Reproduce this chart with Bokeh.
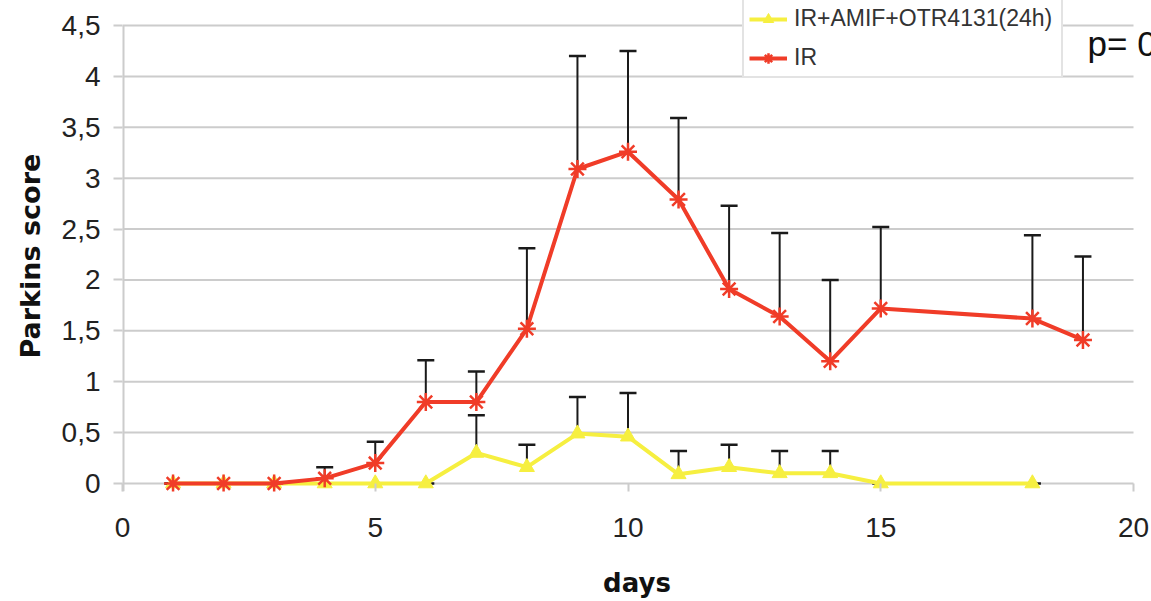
from bokeh.plotting import figure
from bokeh.models import Range1d, FixedTicker, Legend, LegendItem, Label, ColumnDataSource, Title
from bokeh.embed import file_html
from bokeh.resources import INLINE

# ---- data ----
days_ir = [1, 2, 3, 4, 5, 6, 7, 8, 9, 10, 11, 12, 13, 14, 15, 18, 19]
ir_mean = [0, 0, 0, 0.05, 0.2, 0.8, 0.8, 1.52, 3.09, 3.26, 2.79, 1.91, 1.64, 1.2, 1.72, 1.62, 1.41]
ir_err = [0, 0, 0, 0.11, 0.21, 0.41, 0.3, 0.79, 1.11, 0.99, 0.8, 0.82, 0.82, 0.8, 0.8, 0.82, 0.82]

days_tr = [1, 2, 3, 4, 5, 6, 7, 8, 9, 10, 11, 12, 13, 14, 15, 18]
tr_mean = [0, 0, 0, 0, 0, 0, 0.3, 0.16, 0.49, 0.46, 0.09, 0.16, 0.1, 0.1, 0, 0]
tr_err = [0, 0, 0, 0, 0, 0, 0.37, 0.22, 0.36, 0.43, 0.23, 0.22, 0.22, 0.22, 0, 0]

x_ticks = [0, 5, 10, 15, 20]
y_ticks = [0, 0.5, 1, 1.5, 2, 2.5, 3, 3.5, 4, 4.5]
y_tick_labels = ["0", "0,5", "1", "1,5", "2", "2,5", "3", "3,5", "4", "4,5"]
x_min, x_max = 0, 20
y_min, y_max = 0, 4.5

label_tr = "IR+AMIF+OTR4131(24h)"
label_ir = "IR"
x_title = "days"
y_title = "Parkins score"
p_text = "p= 0"

RED = "#f03c28"
YEL = "#f6ef40"
GRID = "#cccccc"
FONT = "Liberation Sans"

# frame extends past the axes' ends so the legend and the p-value are not clipped
p = figure(width=1151, height=601, output_backend="svg", toolbar_location=None,
           x_range=Range1d(x_min, 20.356), y_range=Range1d(-0.079, 4.7456),
           min_border_left=122, min_border_right=0, min_border_top=0, min_border_bottom=110)
p.outline_line_color = None
p.background_fill_color = "white"
p.xgrid.grid_line_color = None
p.ygrid.grid_line_color = None

# horizontal grid lines, limited to 0..20
p.segment(x0=[x_min] * len(y_ticks), y0=y_ticks, x1=[x_max] * len(y_ticks), y1=y_ticks,
          line_color=GRID, line_width=2)
# vertical axis line, from just below 0 up to 4.5
p.segment(x0=[x_min], y0=[-0.079], x1=[x_min], y1=[y_max], line_color=GRID, line_width=4)

# x axis
xa = p.xaxis[0]
xa.ticker = FixedTicker(ticks=x_ticks)
xa.axis_line_color = None
xa.major_tick_in = 8
xa.major_tick_out = 0
xa.major_tick_line_color = GRID
xa.major_tick_line_width = 2
xa.minor_tick_line_color = None
xa.major_label_text_font = FONT
xa.major_label_text_font_size = "28px"
xa.major_label_text_color = "#222222"
xa.major_label_standoff = 26
xa.axis_label = x_title
xa.axis_label_text_font = "DejaVu Sans"
xa.axis_label_text_font_style = "bold"
xa.axis_label_text_font_size = "26px"
xa.axis_label_text_color = "#111111"
xa.axis_label_standoff = 28

# y axis
ya = p.yaxis[0]
ya.ticker = FixedTicker(ticks=y_ticks)
ya.major_label_overrides = {t: l for t, l in zip(y_ticks, y_tick_labels)}
ya.axis_line_color = None
ya.major_tick_in = 0
ya.major_tick_out = 9
ya.major_tick_line_color = GRID
ya.major_tick_line_width = 2
ya.minor_tick_line_color = None
ya.major_label_text_font = FONT
ya.major_label_text_font_size = "28px"
ya.major_label_text_color = "#222222"
ya.major_label_standoff = 13

# y-axis title, centred on the 0..4.5 span
p.add_layout(Title(text=y_title, align="left", offset=133, text_font="DejaVu Sans",
                   text_font_style="bold", text_font_size="27px", text_color="#111111",
                   standoff=25), "left")

# error bars (upper only)
def add_errors(xs, ms, es):
    tops = [m + e for m, e in zip(ms, es)]
    src = ColumnDataSource(dict(x=xs, y0=ms, y1=tops))
    p.segment(x0="x", y0="y0", x1="x", y1="y1", source=src, line_color="#1a1a1a", line_width=2)
    p.scatter(x="x", y="y1", source=src, marker="dash", size=17, line_color="#1a1a1a", line_width=2.5)

add_errors(days_tr, tr_mean, tr_err)
add_errors(days_ir, ir_mean, ir_err)

# series
l_tr = p.line(days_tr, tr_mean, line_color=YEL, line_width=4)
m_tr = p.scatter(days_tr, tr_mean, marker="triangle", size=15, fill_color=YEL, line_color=YEL)
l_ir = p.line(days_ir, ir_mean, line_color=RED, line_width=4)
m_ir = p.scatter(days_ir, ir_mean, marker="asterisk", size=18, line_color=RED, line_width=2.5)

legend = Legend(items=[LegendItem(label=label_tr, renderers=[l_tr, m_tr]),
                       LegendItem(label=label_ir, renderers=[l_ir, m_ir])],
                location=(620, 413), orientation="vertical",
                label_text_font=FONT, label_text_font_size="23px", label_text_color="#333333",
                glyph_width=38, glyph_height=26, label_height=26, label_width=262,
                label_standoff=7, spacing=12, padding=5, margin=0,
                border_line_color="#c8c8c8", border_line_width=2,
                background_fill_color="white", background_fill_alpha=1)
p.add_layout(legend)

p.add_layout(Label(x=19.09, y=4.32, text=p_text, text_font=FONT, text_font_size="35px",
                   text_color="#111111", text_baseline="alphabetic"))

open("out.html", "w").write(file_html(p, INLINE))
